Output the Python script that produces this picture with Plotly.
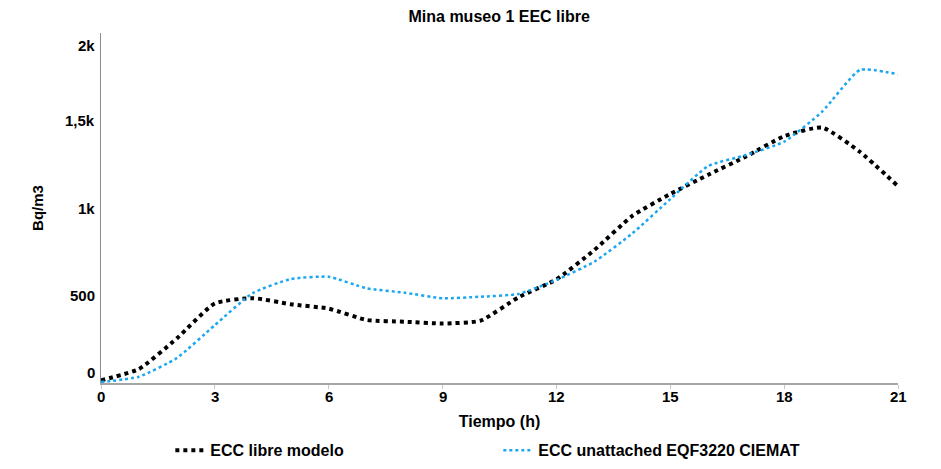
import plotly.graph_objects as go

hours = list(range(22))
ecc_libre_modelo = [15, 80, 255, 455, 485, 450, 425, 360, 350, 340, 356, 490, 592, 760,
                    955, 1080, 1190, 1295, 1410, 1460, 1320, 1125]
ecc_unattached = [5, 36, 143, 331, 514, 594, 607, 541, 516, 484, 493, 509, 589, 693,
                  855, 1051, 1240, 1303, 1379, 1550, 1789, 1764]

x_ticks = [0, 3, 6, 9, 12, 15, 18, 21]
x_tick_text = ["0", "3", "6", "9", "12", "15", "18", "21"]
y_tick_vals = [0, 500, 1000, 1500, 2000]
y_tick_text = ["0", "500", "1k", "1,5k", "2k"]

FONT = "Liberation Sans, Arial, sans-serif"
TICKFONT = dict(family=FONT, size=15, color="#000000", weight="bold")

fig = go.Figure()
fig.add_trace(go.Scatter(
    x=hours, y=ecc_libre_modelo, mode="lines", name="ECC libre modelo",
    line=dict(color="#000000", width=4, dash="dot", shape="spline", smoothing=0.5),
))
fig.add_trace(go.Scatter(
    x=hours, y=ecc_unattached, mode="lines", name="ECC unattached EQF3220 CIEMAT",
    line=dict(color="#1AA7F0", width=2.5, dash="dot", shape="spline", smoothing=0.5),
))

annotations = []
# y tick labels (end labels nudged inward, as in the reference)
shifts = {0: 11, 2000: -12}
for v, t in zip(y_tick_vals, y_tick_text):
    annotations.append(dict(
        x=0, xref="paper", y=v, yref="y", text=t, showarrow=False,
        xanchor="right", yanchor="middle", xshift=-4, yshift=shifts.get(v, 0),
        font=TICKFONT,
    ))
# x tick labels
for v, t in zip(x_ticks, x_tick_text):
    annotations.append(dict(
        x=v, xref="x", y=0, yref="paper", text=t, showarrow=False,
        xanchor="center", yanchor="top", yshift=-3,
        font=TICKFONT,
    ))

fig.update_layout(
    width=941, height=469,
    margin=dict(l=101, r=43, t=33, b=86, autoexpand=False),
    paper_bgcolor="white", plot_bgcolor="white",
    font=dict(family=FONT, size=14, color="#000000", weight="bold"),
    title=dict(text="Mina museo 1 EEC libre", x=0.5305, xanchor="center",
               y=1, yanchor="top", pad=dict(t=11),
               font=dict(family=FONT, size=16, color="#000000", weight="bold")),
    showlegend=True,
    legend=dict(orientation="h", x=0.087, xanchor="left",
                yref="container", y=0.04, yanchor="middle",
                entrywidth=283, entrywidthmode="pixels",
                font=dict(family=FONT, size=16, color="#000000", weight="bold"),
                itemwidth=30, bgcolor="rgba(0,0,0,0)"),
    annotations=annotations,
)
fig.update_xaxes(
    range=[0, 21], tickmode="array", tickvals=x_ticks, showticklabels=False,
    ticks="outside", ticklen=4, tickcolor="#c8c8c8", tickwidth=1,
    showline=True, linecolor="#a6a6a6", linewidth=2, showgrid=False, zeroline=False,
    title=dict(text="Tiempo (h)", standoff=28,
               font=dict(family=FONT, size=16, color="#000000", weight="bold")),
)
fig.update_yaxes(
    range=[0, 2000], tickmode="array", tickvals=y_tick_vals, showticklabels=False,
    ticks="", showline=True, linecolor="#8c8c8c", linewidth=1, showgrid=False, zeroline=False,
    title=dict(text="Bq/m3", standoff=52,
               font=dict(family=FONT, size=15, color="#000000", weight="bold")),
)

fig.write_html("out.html")
